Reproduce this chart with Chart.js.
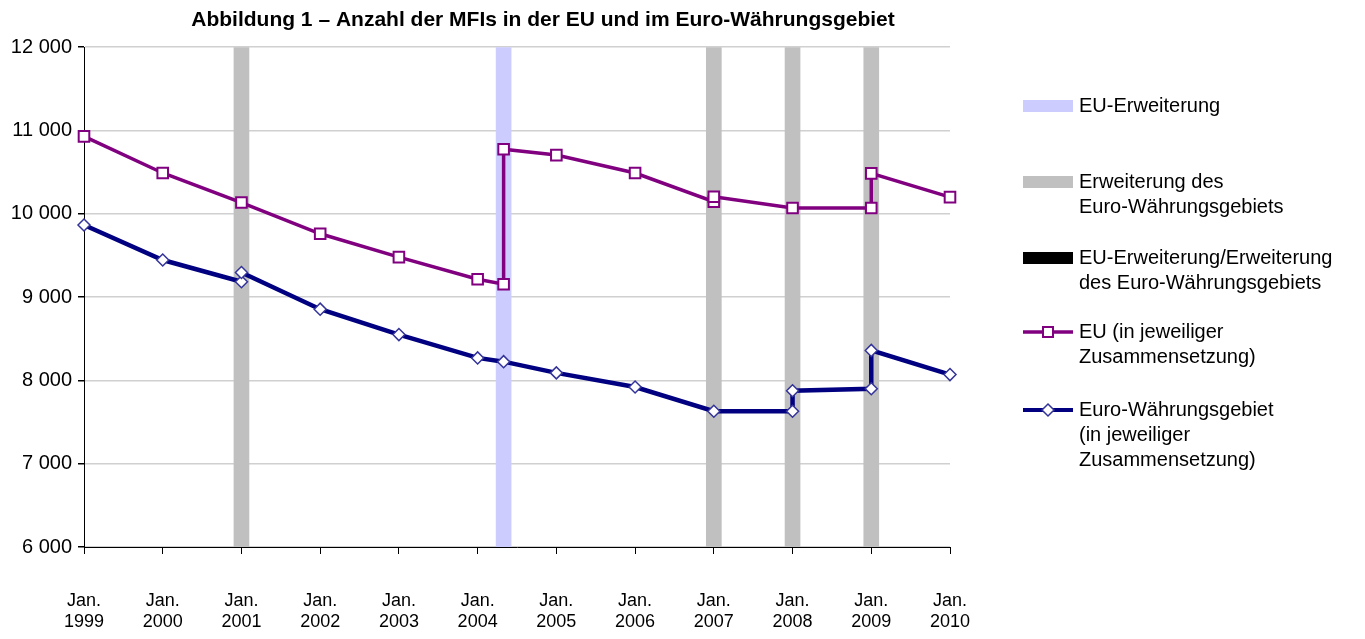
<!DOCTYPE html>
<html>
<head>
<meta charset="utf-8">
<script src="https://cdn.jsdelivr.net/npm/chart.js@4.4.1/dist/chart.umd.min.js"></script>
<style>
  body { margin: 0; background: #fff; font-family: "Liberation Sans", Arial, sans-serif; }
  #wrap { position: absolute; left: 0; top: 0; width: 1086px; height: 639px; }
  #legend { position: absolute; left: 1023px; top: 0; color: #000; font-size: 20px; line-height: 25px; }
  .item { position: absolute; left: 0; width: 340px; }
  .item .key { position: absolute; left: 0; width: 50px; }
  .item .txt { position: absolute; left: 56px; white-space: nowrap; }
</style>
</head>
<body>
<div id="wrap"><canvas id="chart" width="1086" height="639"></canvas></div>
<div id="legend"></div>
<script>
// time positions (years, fractional for May 2004) and values
const euYears = [1999, 2000, 2001, 2002, 2003, 2004, 2004.33, 2004.33, 2005, 2006, 2007, 2007, 2008, 2009, 2009, 2010];
const euValues = [10930, 10490, 10135, 9760, 9480, 9215, 9155, 10775, 10705, 10490, 10145, 10205, 10070, 10070, 10485, 10200];
const euroYears = [1999, 2000, 2001, 2001, 2002, 2003, 2004, 2004.33, 2005, 2006, 2007, 2008, 2008, 2009, 2009, 2010];
const euroValues = [9865, 9445, 9185, 9295, 8855, 8550, 8270, 8225, 8090, 7920, 7630, 7630, 7875, 7900, 8360, 8070];
// enlargement dates
const euEnlargements = [2004.33];
const euroEnlargements = [2001, 2007, 2008, 2009];
const bothEnlargements = [];

const yMin = 6000, yMax = 12000;
const legendLabels = {
  eu: 'EU-Erweiterung',
  euro: 'Erweiterung des<br>Euro-Währungsgebiets',
  both: 'EU-Erweiterung/Erweiterung<br>des Euro-Währungsgebiets',
  euLine: 'EU (in jeweiliger<br>Zusammensetzung)',
  euroLine: 'Euro-Währungsgebiet<br>(in jeweiliger<br>Zusammensetzung)'
};

const toPoints = (xs, ys) => xs.map((x, i) => ({ x: x, y: ys[i] }));
const toBands = xs => xs.map(x => ({ x: x, y: [yMin, yMax] }));
const fmt = v => String(v).replace(/\B(?=(\d{3})+(?!\d))/g, ' ');

const band = (data, color) => ({
  type: 'bar',
  data: toBands(data),
  backgroundColor: color,
  barThickness: 15,
  grouped: false,
  order: 3
});

new Chart(document.getElementById('chart'), {
  type: 'line',
  data: {
    datasets: [
      band(euEnlargements, '#ccccff'),
      band(euroEnlargements, '#c0c0c0'),
      band(bothEnlargements, '#000000'),
      {
        label: 'EU',
        data: toPoints(euYears, euValues),
        borderColor: '#800080',
        borderWidth: 3.5,
        pointStyle: 'rect',
        pointRadius: 7.5,
        pointBorderWidth: 2,
        pointBorderColor: '#800080',
        pointBackgroundColor: '#ffffff',
        clip: false,
        order: 1
      },
      {
        label: 'Euro',
        data: toPoints(euroYears, euroValues),
        borderColor: '#000080',
        borderWidth: 4.5,
        pointStyle: 'rectRot',
        pointRadius: 6,
        pointBorderWidth: 1.5,
        pointBorderColor: '#333399',
        pointBackgroundColor: '#ffffff',
        clip: false,
        order: 1
      }
    ]
  },
  options: {
    responsive: false,
    animation: false,
    layout: { padding: 0 },
    plugins: {
      legend: { display: false },
      tooltip: { enabled: false },
      title: {
        display: true,
        text: 'Abbildung 1 – Anzahl der MFIs in der EU und im Euro-Währungsgebiet',
        color: '#000',
        font: { family: 'Liberation Sans', size: 21, weight: 'bold' },
        padding: { top: 8, bottom: 14 }
      }
    },
    scales: {
      x: {
        type: 'linear',
        min: 1999,
        max: 2010,
        offset: false,
        ticks: {
          stepSize: 1,
          color: '#000',
          font: { family: 'Liberation Sans', size: 18 },
          padding: 36,
          maxRotation: 0,
          callback: v => ['Jan.', String(v)]
        },
        grid: { offset: false, drawOnChartArea: false, drawTicks: true, tickLength: 7, color: '#000' },
        border: { color: '#000', width: 1 },
        afterFit: s => { s.height = 92; }
      },
      y: {
        min: yMin,
        max: yMax,
        ticks: {
          stepSize: 1000,
          color: '#000',
          font: { family: 'Liberation Sans', size: 20 },
          padding: 6,
          callback: v => fmt(v)
        },
        grid: { color: '#d0d0d0', lineWidth: 1.5, tickLength: 6, tickColor: '#000' },
        border: { color: '#000', width: 1 },
        afterFit: s => { s.width = 84; }
      },
      // empty right axis keeps room between the plot and the canvas edge
      yRight: {
        position: 'right',
        min: yMin,
        max: yMax,
        ticks: { display: false },
        grid: { display: false },
        border: { display: false },
        afterFit: s => { s.width = 136; }
      }
    }
  }
});

// legend at the right
const legend = document.getElementById('legend');
const items = [
  { top: 93, key: '<div style="height:12px;margin-top:7px;background:#ccccff"></div>', text: legendLabels.eu },
  { top: 169, key: '<div style="height:12px;margin-top:7px;background:#c0c0c0"></div>', text: legendLabels.euro },
  { top: 245, key: '<div style="height:12px;margin-top:7px;background:#000"></div>', text: legendLabels.both },
  { top: 319, key: '<svg width="50" height="25"><line x1="0" y1="13" x2="50" y2="13" stroke="#800080" stroke-width="3.5"/><rect x="20" y="8" width="10" height="10" fill="#fff" stroke="#800080" stroke-width="2"/></svg>', text: legendLabels.euLine },
  { top: 397, key: '<svg width="50" height="25"><line x1="0" y1="13" x2="50" y2="13" stroke="#000080" stroke-width="4"/><polygon points="25,7 31,13 25,19 19,13" fill="#fff" stroke="#333399" stroke-width="1.5"/></svg>', text: legendLabels.euroLine }
];
items.forEach(it => {
  const d = document.createElement('div');
  d.className = 'item';
  d.style.top = it.top + 'px';
  d.innerHTML = '<div class="key">' + it.key + '</div><div class="txt">' + it.text + '</div>';
  legend.appendChild(d);
});
</script>
</body>
</html>
